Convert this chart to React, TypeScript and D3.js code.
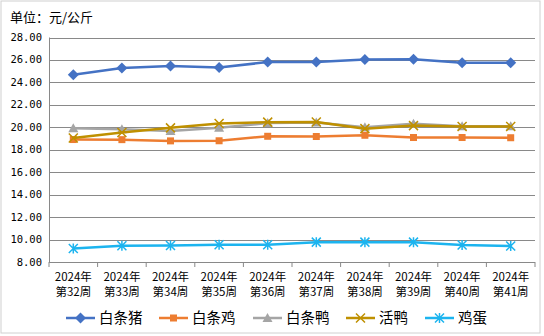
import React, { useEffect } from "react";
import * as d3 from "d3";

const categories = ["第32周", "第33周", "第34周", "第35周", "第36周", "第37周", "第38周", "第39周", "第40周", "第41周"];
const yearLabel = "2024年";
const pork = [24.68, 25.28, 25.47, 25.33, 25.81, 25.82, 26.05, 26.07, 25.74, 25.74];
const chicken = [18.91, 18.9, 18.79, 18.8, 19.2, 19.18, 19.29, 19.09, 19.09, 19.07];
const duck = [19.92, 19.82, 19.66, 19.95, 20.38, 20.42, 20.0, 20.32, 20.1, 20.1];
const liveDuck = [19.05, 19.53, 19.95, 20.34, 20.46, 20.47, 19.88, 20.15, 20.07, 20.07];
const eggs = [9.2, 9.45, 9.47, 9.53, 9.54, 9.77, 9.77, 9.77, 9.52, 9.42];
const yTicks = [8, 10, 12, 14, 16, 18, 20, 22, 24, 26, 28];
const seriesNames = ["白条猪", "白条鸡", "白条鸭", "活鸭", "鸡蛋"];
const seriesColors = ["#4472C4", "#ED7D31", "#A5A5A5", "#BF9000", "#1CB4EF"];
const seriesMarkers = ["diamond", "square", "triangle", "x", "star"];
const seriesData = [pork, chicken, duck, liveDuck, eggs];

const W = 544, H = 336;
const left = 49, right = 535, top = 37.5, bottom = 262;

function Marker({ type, x, y, color }: { type: string; x: number; y: number; color: string }) {
  if (type === "diamond") {
    const r = 5.5;
    return <path d={`M${x},${y - r}L${x + r},${y}L${x},${y + r}L${x - r},${y}Z`} fill={color} />;
  }
  if (type === "square") {
    const s = 7;
    return <rect x={x - s / 2} y={y - s / 2} width={s} height={s} fill={color} />;
  }
  if (type === "triangle") {
    const r = 5;
    return <path d={`M${x},${y - r}L${x + r},${y + r * 0.8}L${x - r},${y + r * 0.8}Z`} fill={color} />;
  }
  if (type === "x") {
    const r = 4.5;
    return <path d={`M${x - r},${y - r}L${x + r},${y + r}M${x - r},${y + r}L${x + r},${y - r}`} stroke={color} strokeWidth={1.5} />;
  }
  const r = 4.5;
  return (
    <path
      d={`M${x - r},${y - r}L${x + r},${y + r}M${x - r},${y + r}L${x + r},${y - r}M${x},${y - r - 0.5}L${x},${y + r + 0.5}`}
      stroke={color}
      strokeWidth={1.5}
    />
  );
}

export default function App() {
  useEffect(() => {
    document.body.style.margin = "0";
  }, []);
  const x = d3.scaleBand<string>().domain(categories).range([left, right]);
  const y = d3.scaleLinear().domain([8, 28]).range([bottom, top]);
  const line = d3
    .line<number>()
    .x((_, i) => (x(categories[i]) as number) + x.bandwidth() / 2)
    .y((d) => y(d));
  const legendX = [66, 159, 253, 346, 425];
  const legendY = 318;
  return (
    <svg width={W} height={H} style={{ display: "block" }} fontFamily="'Noto Sans CJK SC', sans-serif">
      <rect x={0} y={0} width={W} height={H} fill="#fff" />
      <rect x={1} y={1} width={539} height={332} fill="none" stroke="#D0D0D0" strokeWidth={1} />
      <text x={10} y={22} fontSize={13} fill="#000">单位：元/公斤</text>
      {yTicks.map((t) => (
        <g key={t}>
          <line x1={left} x2={right} y1={Math.round(y(t)) + 0.5} y2={Math.round(y(t)) + 0.5} stroke="#898989" strokeWidth={1} />
          <text x={42} y={y(t) + 3.5} fontSize={10.5} textAnchor="end" fontFamily="'DejaVu Sans Mono', monospace" fill="#000">
            {t.toFixed(2)}
          </text>
        </g>
      ))}
      <line x1={left + 0.5} x2={left + 0.5} y1={top} y2={bottom} stroke="#898989" />
      {d3.range(categories.length + 1).map((i) => {
        const xx = left + i * x.bandwidth();
        return <line key={i} x1={xx} x2={xx} y1={bottom} y2={bottom + 5} stroke="#898989" />;
      })}
      {categories.map((c) => {
        const cx = (x(c) as number) + x.bandwidth() / 2;
        return (
          <g key={c}>
            <text x={cx} y={281} fontSize={11.5} textAnchor="middle" fill="#000">{yearLabel}</text>
            <text x={cx} y={296} fontSize={11.5} textAnchor="middle" fill="#000">{c}</text>
          </g>
        );
      })}
      {seriesData.map((data, si) => (
        <g key={si}>
          <path d={line(data) as string} fill="none" stroke={seriesColors[si]} strokeWidth={2.5} strokeLinejoin="round" />
          {data.map((v, i) => (
            <Marker key={i} type={seriesMarkers[si]} x={(x(categories[i]) as number) + x.bandwidth() / 2} y={y(v)} color={seriesColors[si]} />
          ))}
        </g>
      ))}
      {seriesNames.map((n, si) => (
        <g key={n}>
          <line x1={legendX[si]} x2={legendX[si] + 29} y1={legendY} y2={legendY} stroke={seriesColors[si]} strokeWidth={2.5} />
          <Marker type={seriesMarkers[si]} x={legendX[si] + 14.5} y={legendY} color={seriesColors[si]} />
          <text x={legendX[si] + 33} y={legendY + 5} fontSize={14.5} fill="#000">{n}</text>
        </g>
      ))}
    </svg>
  );
}
